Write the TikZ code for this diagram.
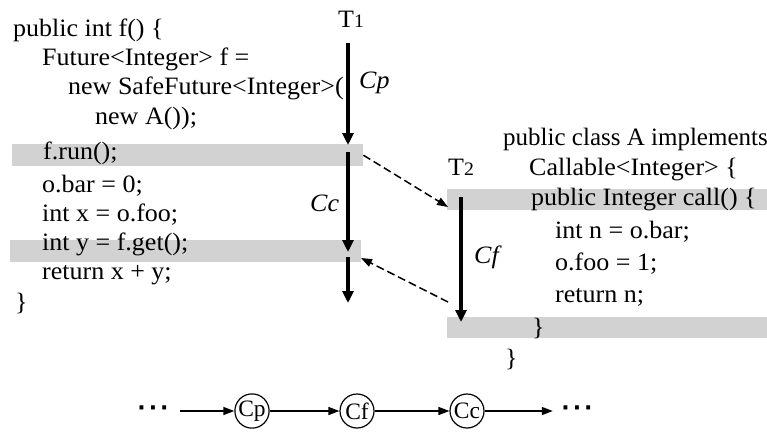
\documentclass[tikz,border=0pt]{standalone}
\usepackage{fontspec}
\setmainfont{Liberation Serif}[FakeStretch=1.04]
\newfontfamily\plainserif{Liberation Serif}
\newfontfamily\dotsfont{DejaVu Sans Bold}
\usetikzlibrary{arrows.meta}
\definecolor{bandgray}{RGB}{210,210,210}
\newcommand{\ellipsisdots}{\dotsfont\fontsize{22}{22}\selectfont ·\kern3pt·\kern3pt·}
\begin{document}
\begin{tikzpicture}[x=1pt,y=-1pt,
  code/.style={anchor=base west, inner sep=0pt, font=\fontsize{25}{30}\selectfont},
  seglabel/.style={anchor=base west, inner sep=0pt, font=\fontsize{25}{30}\selectfont\itshape},
  band/.style={fill=bandgray, draw=none, anchor=north west, inner sep=0pt},
  thread/.style={line width=4pt, -{Triangle[length=12pt,width=11pt]}},
  handoff/.style={line width=1.5pt, dash pattern=on 8pt off 4pt, -{Triangle[length=11pt,width=8pt]}},
  chain/.style={line width=1.5pt, -{Triangle[length=11pt,width=8pt]}},
  task/.style={circle, draw, line width=1.2pt, minimum size=34pt, inner sep=0pt, font=\plainserif\fontsize{23.5}{23.5}\selectfont},
  dots/.style={inner sep=0pt},
]
\useasboundingbox (0,0) rectangle (767,434);

% highlighted lines
\node[band, minimum width=351pt, minimum height=22pt] (runband)  at (12,144) {};
\node[band, minimum width=351pt, minimum height=22pt] (getband)  at (10,240) {};
\node[band, minimum width=330pt, minimum height=21pt] (callband) at (447,189) {};
\node[band, minimum width=330pt, minimum height=21pt] (endband)  at (447,317) {};

% caller code
\node[code] (l1)  at (13,36)  {public int f() \{};
\node[code] (l2)  at (42,65)  {Future<Integer> f =};
\node[code] (l3)  at (68,94)  {new SafeFuture<Integer>(};
\node[code] (l4)  at (95,124) {new A());};
\node[code] (l5)  at (43,159) {f.run();};
\node[code] (l6)  at (42,192) {o.bar = 0;};
\node[code] (l7)  at (42,221) {int x = o.foo;};
\node[code] (l8)  at (42,250) {int y = f.get();};
\node[code] (l9)  at (42,279) {return x + y;};
\node[code] (l10) at (15,310) {\}};

% callee code
\node[code, font=\plainserif\fontsize{25}{30}\selectfont] (r1) at (503,145) {public class A implements};
\node[code] (r2) at (529,175) {Callable<Integer> \{};
\node[code] (r3) at (531,205) {public Integer call() \{};
\node[code] (r4) at (555,238) {int n = o.bar;};
\node[code] (r5) at (555,270) {o.foo = 1;};
\node[code] (r6) at (555,302) {return n;};
\node[code] (r7) at (532,335) {\}};
\node[code] (r8) at (505,366) {\}};

% thread names and segment labels
\node[code] (t1) at (338,27)  {T{\fontsize{19}{19}\selectfont 1}};
\node[code] (t2) at (448,175) {T{\fontsize{19}{19}\selectfont 2}};
\node[seglabel] (cp) at (359,88)  {Cp};
\node[seglabel] (cc) at (310,211) {Cc};
\node[seglabel] (cf) at (474,263) {Cf};

% thread timelines
\coordinate (a0) at (348,43);
\coordinate (a1) at (348,145);
\coordinate (a2) at (348,152);
\coordinate (a3) at (348,252);
\coordinate (a4) at (348,257);
\coordinate (a5) at (348,303);
\coordinate (b0) at (461,197);
\coordinate (b1) at (461,322);
\draw[thread] (a0) -- (a1);
\draw[thread] (a2) -- (a3);
\draw[thread] (a4) -- (a5);
\draw[thread] (b0) -- (b1);

% hand-offs between threads
\coordinate (fork)  at (448,207);
\coordinate (ret)   at (448,302);
\coordinate (join)  at (361,258);
\draw[handoff] (runband.east) -- (fork);
\draw[handoff] (ret) -- (join);

% order of the computations
\node[dots, minimum width=54pt] (dl) at (153,411) {\ellipsisdots};
\node[task] (ncp) at (252,411) {Cp};
\node[task] (ncf) at (357,411) {Cf};
\node[task] (ncc) at (467,411) {Cc};
\node[dots, minimum width=48pt] (dr) at (577,411) {\ellipsisdots};
\draw[chain] (dl) -- (ncp);
\draw[chain] (ncp) -- (ncf);
\draw[chain] (ncf) -- (ncc);
\draw[chain] (ncc) -- (dr);
\end{tikzpicture}
\end{document}
